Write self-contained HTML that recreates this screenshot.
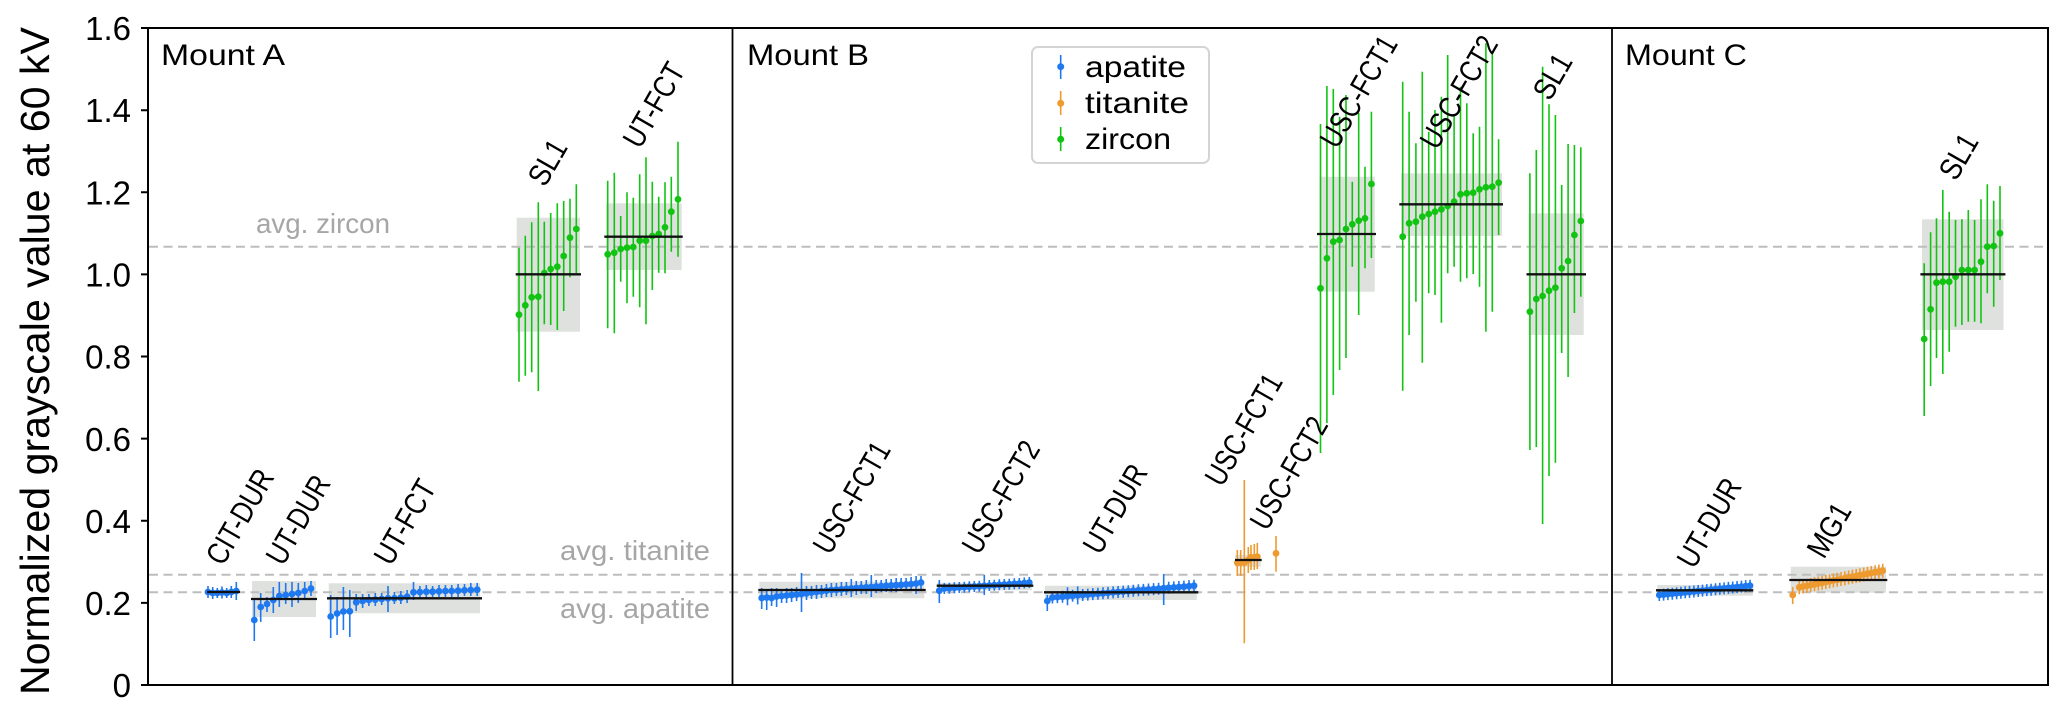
<!DOCTYPE html>
<html>
<head>
<meta charset="utf-8">
<style>
  html,body{margin:0;padding:0;background:#fff;}
  svg{display:block;}
  text{font-family:"Liberation Sans",Arial,sans-serif;}
</style>
</head>
<body>
<svg width="2067" height="718" viewBox="0 0 2067 718" xmlns="http://www.w3.org/2000/svg">
<rect x="0" y="0" width="2067" height="718" fill="#fff"/>

<!-- gray boxes -->
<g fill="#dfe1df">
  <rect x="252" y="581" width="64" height="36"/>
  <rect x="328.7" y="583.3" width="151.3" height="30"/>
  <rect x="516.7" y="217.7" width="63.3" height="114"/>
  <rect x="606" y="203.3" width="75.7" height="66.7"/>
  <rect x="759.3" y="581.7" width="165" height="16.6"/>
  <rect x="937" y="582.7" width="95" height="7.5"/>
  <rect x="1045" y="585.7" width="151.7" height="14.3"/>
  <rect x="1235" y="555" width="25.7" height="11.7"/>
  <rect x="1319.6" y="176.7" width="55.2" height="115"/>
  <rect x="1401" y="173.3" width="101" height="62.7"/>
  <rect x="1528.5" y="213.3" width="55.2" height="121.7"/>
  <rect x="1657.3" y="585" width="95.4" height="10.7"/>
  <rect x="1790.7" y="566.7" width="95.3" height="26"/>
  <rect x="1922" y="219.3" width="81.5" height="110.7"/>
</g>

<!-- average dashed lines -->
<g stroke="#bdbdbd" stroke-width="2" stroke-dasharray="9 5.5" fill="none">
  <line x1="149" y1="246.7" x2="2047" y2="246.7"/>
  <line x1="149" y1="574.7" x2="2047" y2="574.7"/>
  <line x1="149" y1="592.3" x2="2047" y2="592.3"/>
</g>

<!-- avg labels -->
<g fill="#a6a6a6" font-size="28">
  <text x="256" y="233" textLength="134" lengthAdjust="spacingAndGlyphs">avg. zircon</text>
  <text x="560" y="560" textLength="150" lengthAdjust="spacingAndGlyphs">avg. titanite</text>
  <text x="560" y="618" textLength="150" lengthAdjust="spacingAndGlyphs">avg. apatite</text>
</g>

<!-- ===== APATITE (blue) ===== -->
<g stroke="#1e78f0" stroke-width="1.6" fill="none">
  <path d="M208 586V598M212.7 587V599M217.3 588V598M222 586.5V598.5M226.7 588V598M231.3 586V598M236.3 582V600"/>
  <path d="M254.3 600V641M260.7 593V622M267 597V612M273.3 587V613M279.3 582V607M285.7 583V604M292 582V607M298.3 583V603M304.7 582V600M311 581V596"/>
  <path d="M330.7 595V638M337.1 597V635M343.4 587V630M349.8 590V637M356.2 594V611M362.6 594V608M368.9 594V606M375.3 593V606M381.7 593V605M388 586V612M394.4 592V604M400.8 591V604M407.1 590V603M413.5 582V600M419.9 586V598M426.3 585V598M432.6 586V597M439 585V597M445.4 585V597M451.7 585V597M458.1 584V597M464.5 584V596M470.8 583V596M477.2 583V596"/>
  <path d="M761.7 588V609M766.7 589V610M771.6 588V606M776.6 588V607M781.6 589V603M786.6 588V603M791.6 588V602M796.6 587V601M801.5 573V612M806.5 586V600M811.5 586V599M816.5 585V599M821.5 585V598M826.4 584V597M831.4 583V597M836.4 583V596M841.4 582V596M846.4 582V595M851.3 579V597M856.3 581V595M861.3 581V594M866.3 580V594M871.3 575V597M876.2 580V593M881.2 580V592M886.2 579V592M891.2 579V592M896.2 578V592M901.1 578V591M906.1 578V591M911.1 577V590M916.1 576V594M921 576V589"/>
  <path d="M939.3 580V603M944.3 583V594M949.3 582.7V593.7M954.3 582.3V593.3M959.3 582V593M964.3 581.7V592.7M969.3 581.3V592.3M974.3 581V592M979.3 580.7V591.7M984.3 575V595M989.3 580V591M994.3 579.7V590.7M999.3 579.3V590.3M1004.3 579V590M1009.3 578.7V589.7M1014.3 578.3V589.3M1019.3 578V589M1024.3 577.5V588.5M1029.3 577V588"/>
  <path d="M1047.3 595V611M1052.4 591.5V603.5M1057.4 591.1V603.1M1062.5 590.7V602.7M1067.5 587.2V605.2M1072.6 589.8V601.8M1077.7 586.4V604.4M1082.7 589V601M1087.8 588.6V600.6M1092.8 588.1V600.1M1097.9 587.7V599.7M1103 587.3V599.3M1108 586.9V598.9M1113.1 586.4V598.4M1118.1 586V598M1123.2 585.6V597.6M1128.3 585.2V597.2M1133.3 584.8V596.8M1138.4 584.3V596.3M1143.4 583.9V595.9M1148.5 583.5V595.5M1153.6 583.1V595.1M1158.6 582.7V594.7M1163.7 574V605M1168.7 581.8V593.8M1173.8 581.4V593.4M1178.9 581V593M1183.9 580.6V592.6M1189 580.1V592.1M1194 579.7V591.7"/>
  <path d="M1659.3 589V601M1663.6 588.6V600.6M1667.9 588.1V600.1M1672.3 587.7V599.7M1676.6 587.2V599.2M1680.9 586.8V598.8M1685.2 586.3V598.3M1689.5 585.9V597.9M1693.9 585.5V597.5M1698.2 585V597M1702.5 584.6V596.6M1706.8 584.1V596.1M1711.1 583.7V595.7M1715.5 583.2V595.2M1719.8 582.8V594.8M1724.1 582.4V594.4M1728.4 581.9V593.9M1732.7 581.5V593.5M1737.1 581V593M1741.4 580.6V592.6M1745.7 580.1V592.1M1750 579.7V591.7"/>
</g>
<g stroke="#1e78f0" stroke-width="6.8" stroke-linecap="round" fill="none">
  <path d="M208 592h0M212.7 593h0M217.3 593h0M222 592.5h0M226.7 593h0M231.3 592h0M236.3 591h0"/>
  <path d="M254.3 620h0M260.7 607h0M267 604h0M273.3 600h0M279.3 596h0M285.7 595h0M292 594h0M298.3 593h0M304.7 591h0M311 588.5h0"/>
  <path d="M330.7 616.5h0M337.1 613.5h0M343.4 611.5h0M349.8 611.3h0M356.2 602.3h0M362.6 601h0M368.9 600h0M375.3 599.7h0M381.7 599h0M388 598.3h0M394.4 598.3h0M400.8 597.7h0M407.1 596.7h0M413.5 592.3h0M419.9 592h0M426.3 591.7h0M432.6 591.7h0M439 591.3h0M445.4 591h0M451.7 591h0M458.1 590.7h0M464.5 590.3h0M470.8 590h0M477.2 589.7h0"/>
  <path d="M761.7 598h0M766.7 597.5h0M771.6 598h0M776.6 596.5h0M781.6 596h0M786.6 595.5h0M791.6 595h0M796.6 594.5h0M801.5 594h0M806.5 593.3h0M811.5 592.5h0M816.5 592h0M821.5 591.3h0M826.4 590.7h0M831.4 590h0M836.4 589.7h0M841.4 589.3h0M846.4 588.8h0M851.3 588.4h0M856.3 588h0M861.3 587.7h0M866.3 587.3h0M871.3 587h0M876.2 586.5h0M881.2 586.2h0M886.2 585.8h0M891.2 585.5h0M896.2 585.2h0M901.1 584.8h0M906.1 584.4h0M911.1 584h0M916.1 583.5h0M921 582.5h0"/>
  <path d="M939.3 590.7h0M944.3 588.5h0M949.3 588.2h0M954.3 587.8h0M959.3 587.5h0M964.3 587.2h0M969.3 586.8h0M974.3 586.5h0M979.3 586.2h0M984.3 585.8h0M989.3 585.5h0M994.3 585.2h0M999.3 584.8h0M1004.3 584.5h0M1009.3 584.2h0M1014.3 583.8h0M1019.3 583.5h0M1024.3 583h0M1029.3 582.5h0"/>
  <path d="M1047.3 601h0M1052.4 597.5h0M1057.4 597.1h0M1062.5 596.7h0M1067.5 596.2h0M1072.6 595.8h0M1077.7 595.4h0M1082.7 595h0M1087.8 594.6h0M1092.8 594.1h0M1097.9 593.7h0M1103 593.3h0M1108 592.9h0M1113.1 592.4h0M1118.1 592h0M1123.2 591.6h0M1128.3 591.2h0M1133.3 590.8h0M1138.4 590.3h0M1143.4 589.9h0M1148.5 589.5h0M1153.6 589.1h0M1158.6 588.7h0M1163.7 588.2h0M1168.7 587.8h0M1173.8 587.4h0M1178.9 587h0M1183.9 586.6h0M1189 586.1h0M1194 585.7h0"/>
  <path d="M1659.3 595h0M1663.6 594.6h0M1667.9 594.1h0M1672.3 593.7h0M1676.6 593.2h0M1680.9 592.8h0M1685.2 592.3h0M1689.5 591.9h0M1693.9 591.5h0M1698.2 591h0M1702.5 590.6h0M1706.8 590.1h0M1711.1 589.7h0M1715.5 589.2h0M1719.8 588.8h0M1724.1 588.4h0M1728.4 587.9h0M1732.7 587.5h0M1737.1 587h0M1741.4 586.6h0M1745.7 586.1h0M1750 585.7h0"/>
</g>

<!-- ===== TITANITE (orange) ===== -->
<g stroke="#ef9a2f" stroke-width="1.6" fill="none">
  <path d="M1237.3 550V576M1240.7 550V576M1244.3 480V643.3M1248.3 547V573M1251 545V570M1254.3 544V570M1257.3 543V569"/>
  <path d="M1276 536V571.7"/>
  <path d="M1792.7 587V604M1799.3 580.3V594.3M1803.1 579.5V593.5M1806.9 578.8V592.8M1810.7 578V592M1814.5 577.3V591.3M1818.3 576.5V590.5M1822.1 575.8V589.8M1825.8 575V589M1829.6 574.3V588.3M1833.4 573.5V587.5M1837.2 572.8V586.8M1841 572V586M1844.8 571.2V585.2M1848.6 570.5V584.5M1852.4 569.7V583.7M1856.2 569V583M1859.9 568.2V582.2M1863.7 567.5V581.5M1867.5 566.7V580.7M1871.3 566V580M1875.1 565.2V579.2M1878.9 564.5V578.5M1882.7 563.7V577.7"/>
</g>
<g stroke="#ef9a2f" stroke-width="6.8" stroke-linecap="round" fill="none">
  <path d="M1237.3 562.7h0M1240.7 562.7h0M1244.3 562.7h0M1248.3 560h0M1251 557.3h0M1254.3 557.3h0M1257.3 556.7h0"/>
  <path d="M1276 553.3h0"/>
  <path d="M1792.7 595h0M1799.3 587.3h0M1803.1 586.5h0M1806.9 585.8h0M1810.7 585h0M1814.5 584.3h0M1818.3 583.5h0M1822.1 582.8h0M1825.8 582h0M1829.6 581.3h0M1833.4 580.5h0M1837.2 579.8h0M1841 579h0M1844.8 578.2h0M1848.6 577.5h0M1852.4 576.7h0M1856.2 576h0M1859.9 575.2h0M1863.7 574.5h0M1867.5 573.7h0M1871.3 573h0M1875.1 572.2h0M1878.9 571.5h0M1882.7 570.7h0"/>
</g>

<!-- ===== ZIRCON (green) ===== -->
<g stroke="#12c412" stroke-width="1.6" fill="none">
  <path d="M519 247.7V381.7M525.3 235.7V375.7M531.7 222.3V372.3M538.3 202.3V391M544.3 221.7V324.3M550.7 213V325M557.3 203.3V330M563.7 201V311M570 198.7V277.3M576.3 184.3V273.3"/>
  <path d="M607.7 180.7V328.3M614.3 172.7V333.3M620.7 216V281.7M627 192.3V303.3M633.3 197.7V296.7M639.7 174.3V307.3M646 157.3V324.3M652.3 181.7V290M658.7 196.7V272.7M665 182.3V273.3M671.3 176.7V251.7M678 141.7V256.7"/>
  <path d="M1320.5 124V453M1326.9 86V423M1333.3 89V395M1339.6 116.7V370M1346 95V358M1352.3 181.7V266.7M1358.7 113V315M1365 166.7V268.3M1371.4 111.7V258"/>
  <path d="M1402.7 81.7V390.7M1409.1 111.7V335M1415.9 143.3V301.7M1422.3 71.7V362.7M1428.7 131.7V293.3M1435 110V295M1441.4 96.7V322.7M1447.7 55V273.3M1454.1 115V266.7M1460.5 86.7V281.7M1466.8 103.3V278.3M1473.2 133.3V274M1479.5 126.7V286.7M1485.9 43.3V331.7M1492.3 51.7V311.7M1498.6 139.3V235"/>
  <path d="M1529.9 173.3V450M1536.3 150V447M1542.6 66.7V524M1549 104.3V476M1555.4 115V462.7M1561.7 185V353M1568.1 144V377M1574.4 145V313M1580.8 147.3V296.7"/>
  <path d="M1924.2 263.3V416M1930.6 232.3V386M1936.5 218.3V358M1942.8 190V374M1949.2 211.7V351.7M1955.5 220V326.7M1961.9 219.3V325M1968.3 210V321.7M1974.6 220V321.7M1981 199.3V323.3M1987.3 184.3V293.3M1993.7 200.7V306.7M2000 186V280"/>
</g>
<g stroke="#12c412" stroke-width="6.8" stroke-linecap="round" fill="none">
  <path d="M519 314.7h0M525.3 305.3h0M531.7 297.3h0M538.3 296.7h0M544.3 273h0M550.7 269h0M557.3 266.7h0M563.7 256h0M570 237.7h0M576.3 229h0"/>
  <path d="M607.7 254.3h0M614.3 252.7h0M620.7 249h0M627 247.7h0M633.3 247h0M639.7 240.7h0M646 240.7h0M652.3 236h0M658.7 234h0M665 227.3h0M671.3 211.7h0M678 199.3h0"/>
  <path d="M1320.5 288.3h0M1326.9 258.3h0M1333.3 241.7h0M1339.6 240h0M1346 229h0M1352.3 224.3h0M1358.7 220.7h0M1365 218.3h0M1371.4 184h0"/>
  <path d="M1402.7 236.7h0M1409.1 223.3h0M1415.9 221.7h0M1422.3 216.7h0M1428.7 214h0M1435 211.7h0M1441.4 209.3h0M1447.7 206h0M1454.1 201.7h0M1460.5 194.3h0M1466.8 193.3h0M1473.2 192.7h0M1479.5 189.3h0M1485.9 187.3h0M1492.3 186.7h0M1498.6 182.7h0"/>
  <path d="M1529.9 311.7h0M1536.3 299h0M1542.6 296h0M1549 290.7h0M1555.4 287.7h0M1561.7 268.3h0M1568.1 261h0M1574.4 235h0M1580.8 221h0"/>
  <path d="M1924.2 339h0M1930.6 309.3h0M1936.5 282.7h0M1942.8 281.7h0M1949.2 281.7h0M1955.5 276.7h0M1961.9 270h0M1968.3 270h0M1974.6 270h0M1981 261.7h0M1987.3 246.7h0M1993.7 246h0M2000 233.3h0"/>
</g>

<!-- mean lines -->
<g stroke="#111" stroke-width="2.3" fill="none">
  <line x1="207" y1="592" x2="240" y2="592"/>
  <line x1="251" y1="599" x2="317" y2="599"/>
  <line x1="327" y1="598.3" x2="482" y2="598.3"/>
  <line x1="515.7" y1="274.3" x2="581" y2="274.3"/>
  <line x1="604.3" y1="236.7" x2="682.7" y2="236.7"/>
  <line x1="758.3" y1="590" x2="925.7" y2="590"/>
  <line x1="936.7" y1="585.7" x2="1033.3" y2="585.7"/>
  <line x1="1044" y1="592.3" x2="1198.3" y2="592.3"/>
  <line x1="1235" y1="560" x2="1261.7" y2="560"/>
  <line x1="1317" y1="234" x2="1376" y2="234"/>
  <line x1="1399.3" y1="204.3" x2="1503" y2="204.3"/>
  <line x1="1526.5" y1="274.3" x2="1586" y2="274.3"/>
  <line x1="1656" y1="590.3" x2="1753.3" y2="590.3"/>
  <line x1="1789.3" y1="580" x2="1887.3" y2="580"/>
  <line x1="1920.4" y1="274.3" x2="2005.4" y2="274.3"/>
</g>

<!-- group labels (rotated 60deg) -->
<g font-size="31" fill="#000">
  <text transform="translate(223,567) rotate(-60)" textLength="104" lengthAdjust="spacingAndGlyphs">CIT-DUR</text>
  <text transform="translate(283,567) rotate(-60)" textLength="97" lengthAdjust="spacingAndGlyphs">UT-DUR</text>
  <text transform="translate(391,567) rotate(-60)" textLength="92" lengthAdjust="spacingAndGlyphs">UT-FCT</text>
  <text transform="translate(545,188) rotate(-60)" textLength="47" lengthAdjust="spacingAndGlyphs">SL1</text>
  <text transform="translate(640,150) rotate(-60)" textLength="92" lengthAdjust="spacingAndGlyphs">UT-FCT</text>

  <text transform="translate(830,556) rotate(-60)" textLength="123" lengthAdjust="spacingAndGlyphs">USC-FCT1</text>
  <text transform="translate(979,556) rotate(-60)" textLength="124" lengthAdjust="spacingAndGlyphs">USC-FCT2</text>
  <text transform="translate(1100,556) rotate(-60)" textLength="97" lengthAdjust="spacingAndGlyphs">UT-DUR</text>
  <text transform="translate(1222,488) rotate(-60)" textLength="123" lengthAdjust="spacingAndGlyphs">USC-FCT1</text>
  <text transform="translate(1267,532) rotate(-60)" textLength="124" lengthAdjust="spacingAndGlyphs">USC-FCT2</text>
  <text transform="translate(1337,150) rotate(-60)" textLength="123" lengthAdjust="spacingAndGlyphs">USC-FCT1</text>
  <text transform="translate(1437,151) rotate(-60)" textLength="124" lengthAdjust="spacingAndGlyphs">USC-FCT2</text>
  <text transform="translate(1550,102) rotate(-60)" textLength="47" lengthAdjust="spacingAndGlyphs">SL1</text>

  <text transform="translate(1694,570) rotate(-60)" textLength="97" lengthAdjust="spacingAndGlyphs">UT-DUR</text>
  <text transform="translate(1824,560) rotate(-60)" textLength="57" lengthAdjust="spacingAndGlyphs">MG1</text>
  <text transform="translate(1956,182) rotate(-60)" textLength="47" lengthAdjust="spacingAndGlyphs">SL1</text>
</g>

<!-- panel titles -->
<g font-size="30" fill="#000">
  <text x="161" y="65" textLength="124" lengthAdjust="spacingAndGlyphs">Mount A</text>
  <text x="747" y="65" textLength="122" lengthAdjust="spacingAndGlyphs">Mount B</text>
  <text x="1625" y="65" textLength="122" lengthAdjust="spacingAndGlyphs">Mount C</text>
</g>

<!-- legend -->
<rect x="1032" y="47" width="177" height="116" rx="6" ry="6" fill="#fff" fill-opacity="0.85" stroke="#d4d4d4" stroke-width="2"/>
<g stroke-width="1.6" fill="none">
  <line x1="1060.7" y1="55" x2="1060.7" y2="79" stroke="#1e78f0"/>
  <line x1="1060.7" y1="91" x2="1060.7" y2="115" stroke="#ef9a2f"/>
  <line x1="1060.7" y1="127" x2="1060.7" y2="151" stroke="#12c412"/>
</g>
<g stroke-width="7" stroke-linecap="round" fill="none">
  <path d="M1060.7 66.7h0" stroke="#1e78f0"/>
  <path d="M1060.7 103.3h0" stroke="#ef9a2f"/>
  <path d="M1060.7 139.3h0" stroke="#12c412"/>
</g>
<g font-size="30" fill="#000">
  <text x="1085" y="77" textLength="101" lengthAdjust="spacingAndGlyphs">apatite</text>
  <text x="1085" y="113" textLength="104" lengthAdjust="spacingAndGlyphs">titanite</text>
  <text x="1085" y="149" textLength="86" lengthAdjust="spacingAndGlyphs">zircon</text>
</g>

<!-- axes frame and dividers -->
<g stroke="#000" fill="none">
  <rect x="148" y="28" width="1900" height="657" stroke-width="2"/>
  <line x1="732.5" y1="28" x2="732.5" y2="685" stroke-width="1.8"/>
  <line x1="1612" y1="28" x2="1612" y2="685" stroke-width="1.8"/>
  <path stroke-width="2" d="M141 685H148M141 602.9H148M141 520.8H148M141 438.6H148M141 356.5H148M141 274.4H148M141 192.3H148M141 110.2H148M141 28H148"/>
</g>

<!-- tick labels -->
<g font-size="33" fill="#000" text-anchor="end">
  <text x="131" y="697">0</text>
  <text x="131" y="615">0.2</text>
  <text x="131" y="533">0.4</text>
  <text x="131" y="451">0.6</text>
  <text x="131" y="368.5">0.8</text>
  <text x="131" y="286.5">1.0</text>
  <text x="131" y="204.5">1.2</text>
  <text x="131" y="122">1.4</text>
  <text x="131" y="40">1.6</text>
</g>

<!-- y axis label -->
<text transform="translate(49,361) rotate(-90)" text-anchor="middle" font-size="41" fill="#000" textLength="668" lengthAdjust="spacingAndGlyphs">Normalized grayscale value at 60 kV</text>

</svg>
</body>
</html>
